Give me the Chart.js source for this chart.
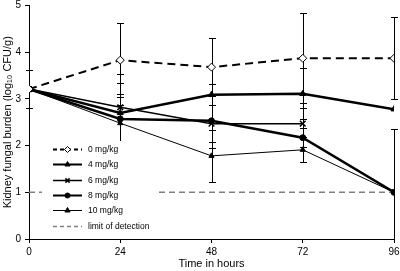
<!DOCTYPE html>
<html>
<head>
<meta charset="utf-8">
<script src="https://cdn.jsdelivr.net/npm/chart.js@4/dist/chart.umd.min.js"></script>
<style>
  html, body { margin: 0; padding: 0; background: #fff; }
  #wrap { width: 400px; height: 271px; }
</style>
</head>
<body>
<div id="wrap"><canvas id="c" width="400" height="271"></canvas></div>
<script>
// ---- data ----
const hours = [0, 24, 48, 72, 96];
const mg0  = [3.21, 3.83, 3.68, 3.87, 3.87];
const mg4  = [3.21, 2.70, 3.09, 3.11, 2.78];
const mg6  = [3.21, 2.82, 2.47, 2.47, null];
const mg8  = [3.21, 2.57, 2.53, 2.17, 1.00];
const mg10 = [3.21, 2.48, 1.78, 1.91, 1.00];
const err0  = [0.40, 0.79, 0.62, 0.96, 0.88];
const err4  = [null, 0.65, 0.22, 0.55, null];
const err6  = [null, 0.72, 0.40, 0.33, null];
const err8  = [null, 0.53, 0.58, 0.20, 1.36];
const err10 = [null, 0.39, 0.55, 0.27, null];
const lodHours = [0, 96];
const lodValues = [1, 1];
const seriesLabels = ['0 mg/kg', '4 mg/kg', '6 mg/kg', '8 mg/kg', '10 mg/kg', 'limit of detection'];
const yTicks = [0, 1, 2, 3, 4, 5];
const xTicks = [0, 24, 48, 72, 96];

const FONT = '"Liberation Sans", Arial, sans-serif';

function pts(xs, ys) { return xs.map((x, i) => ({ x: x, y: ys[i] })); }

const datasets = [
  { label: seriesLabels[0], data: pts(hours, mg0), errors: err0, legendRadius: 3,
    borderColor: '#000', borderWidth: 2, borderDash: [8, 5],
    pointStyle: 'rectRot', pointRadius: 4, pointBackgroundColor: '#fff', pointBorderColor: '#000', pointBorderWidth: 1 },
  { label: seriesLabels[1], data: pts(hours, mg4), errors: err4, legendRadius: 3,
    borderColor: '#000', borderWidth: 2.5,
    pointStyle: 'triangle', pointRadius: 3.5, pointBackgroundColor: '#000', pointBorderColor: '#000', pointBorderWidth: 1 },
  { label: seriesLabels[2], data: pts(hours, mg6), errors: err6, legendRadius: 3,
    borderColor: '#000', borderWidth: 1.5,
    pointStyle: 'crossRot', pointRadius: 4, pointBackgroundColor: '#000', pointBorderColor: '#000', pointBorderWidth: 1.5 },
  { label: seriesLabels[3], data: pts(hours, mg8), errors: err8, legendRadius: 2.5,
    borderColor: '#000', borderWidth: 2.5,
    pointStyle: 'circle', pointRadius: 3, pointBackgroundColor: '#000', pointBorderColor: '#000', pointBorderWidth: 1 },
  { label: seriesLabels[4], data: pts(hours, mg10), errors: err10, legendRadius: 3,
    borderColor: '#000', borderWidth: 1,
    pointStyle: 'triangle', pointRadius: 3, pointBackgroundColor: '#000', pointBorderColor: '#000', pointBorderWidth: 1 },
  { label: seriesLabels[5], data: pts(lodHours, lodValues), errors: null,
    borderColor: '#808080', borderWidth: 1.5, borderDash: [6, 4],
    pointRadius: 0, pointStyle: false }
];
datasets.forEach(d => { d.fill = false; d.tension = 0; d.spanGaps = false; });

const errorBars = {
  id: 'errorBars',
  beforeDatasetsDraw(chart) {
    const ctx = chart.ctx, xs = chart.scales.x, ys = chart.scales.y, a = chart.chartArea;
    ctx.save();
    ctx.beginPath();
    ctx.rect(a.left - 5, a.top - 5, a.right - a.left + 10, a.bottom - a.top + 5);
    ctx.clip();
    ctx.strokeStyle = '#000';
    ctx.lineWidth = 1;
    chart.data.datasets.forEach(ds => {
      if (!ds.errors) return;
      ds.data.forEach((p, i) => {
        const e = ds.errors[i];
        if (p.y == null || e == null) return;
        const x = Math.round(xs.getPixelForValue(p.x)) + 0.5;
        const yt = Math.round(ys.getPixelForValue(p.y + e)) + 0.5;
        const yb = Math.round(ys.getPixelForValue(p.y - e)) + 0.5;
        ctx.beginPath();
        ctx.moveTo(x, yt); ctx.lineTo(x, yb);
        ctx.moveTo(x - 3.5, yt); ctx.lineTo(x + 3.5, yt);
        ctx.moveTo(x - 3.5, yb); ctx.lineTo(x + 3.5, yb);
        ctx.stroke();
      });
    });
    ctx.restore();
  }
};

const boxLegend = {
  id: 'boxLegend',
  afterDatasetsDraw(chart) {
    const ctx = chart.ctx;
    ctx.save();
    ctx.fillStyle = '#fff';
    ctx.fillRect(42, 141, 116, 92);
    const rows = [149, 164, 180, 195, 210, 226];
    chart.data.datasets.forEach((ds, i) => {
      const y = rows[i] + 0.5;
      ctx.save();
      ctx.strokeStyle = ds.borderColor;
      ctx.lineWidth = Math.min(ds.borderWidth, 2);
      ctx.setLineDash(ds.borderDash ? [4, 3] : []);
      ctx.beginPath();
      ctx.moveTo(53, y); ctx.lineTo(82, y);
      ctx.stroke();
      ctx.restore();
      if (ds.pointStyle) {
        ctx.save();
        ctx.fillStyle = ds.pointBackgroundColor;
        ctx.strokeStyle = ds.pointBorderColor;
        ctx.lineWidth = ds.pointBorderWidth;
        Chart.helpers.drawPoint(ctx, { pointStyle: ds.pointStyle, radius: ds.legendRadius, borderWidth: ds.pointBorderWidth, rotation: 0 }, 67.5, y);
        ctx.restore();
      }
      ctx.fillStyle = '#000';
      ctx.font = '8.5px ' + FONT;
      ctx.textBaseline = 'middle';
      ctx.textAlign = 'left';
      ctx.fillText(ds.label, 88, y);
    });
    ctx.restore();
  }
};

new Chart(document.getElementById('c'), {
  type: 'line',
  data: { datasets: datasets },
  plugins: [errorBars, boxLegend],
  options: {
    responsive: false,
    animation: false,
    devicePixelRatio: 1,
    layout: { padding: { top: 4, right: 0, left: 0, bottom: 0 } },
    plugins: { legend: { display: false }, tooltip: { enabled: false } },
    scales: {
      x: {
        type: 'linear', min: 0, max: 96,
        afterBuildTicks(s) { s.ticks = xTicks.map(v => ({ value: v })); },
        afterFit(s) { s.height = 32; s.paddingRight = 6; s.paddingLeft = 0; },
        ticks: { color: '#000', font: { family: FONT, size: 10 }, padding: 3, maxRotation: 0 },
        grid: { display: true, drawOnChartArea: false, drawTicks: true, tickLength: 4, color: '#000' },
        border: { display: true, color: '#000', width: 1 },
        title: { display: true, text: 'Time in hours', color: '#000', font: { family: FONT, size: 11 }, padding: { top: 1, bottom: 0 } }
      },
      y: {
        type: 'linear', min: 0, max: 5,
        afterBuildTicks(s) { s.ticks = yTicks.map(v => ({ value: v })); },
        afterFit(s) { s.width = 29; s.paddingTop = 0; s.paddingBottom = 0; },
        ticks: { color: '#000', font: { family: FONT, size: 10 }, padding: 4 },
        grid: { display: true, drawOnChartArea: false, drawTicks: true, tickLength: 4, color: '#000' },
        border: { display: true, color: '#000', width: 1 },
        title: { display: true, text: 'Kidney fungal burden (log\u2081\u2080 CFU/g)', color: '#000', font: { family: FONT, size: 11 }, padding: { top: 1, bottom: 2 } }
      }
    }
  }
});
</script>
</body>
</html>
